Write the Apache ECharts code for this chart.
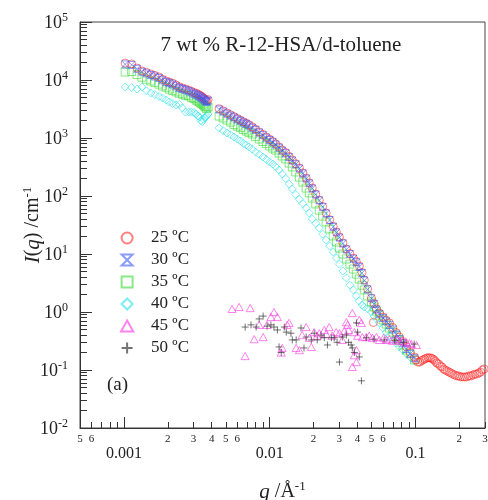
<!DOCTYPE html>
<html><head><meta charset="utf-8">
<script src="https://cdn.jsdelivr.net/npm/echarts@6/dist/echarts.min.js"></script>
<style>html,body{margin:0;padding:0;background:#fff}#c{width:488px;height:500px}</style>
</head><body><div id="c"></div>
<script>
// ---- data (q in 1/Å, I in 1/cm) ----
const qA = [0.00102,0.00113,0.00123,0.00133,0.00143,0.00153,0.00163,0.00174,0.00184,0.00195,0.00205,0.00216,0.00228,0.00240,0.00252,0.00265,0.00278,0.00290,0.00302,0.00313,0.00322,0.00330,0.00338,0.00345,0.00352,0.00358,0.00364,0.00370,0.00378];
const qB = [0.0045,0.0048,0.0051,0.0054,0.0057,0.0060,0.0063,0.0066,0.0069,0.0072,0.0076,0.0080,0.0085,0.0090,0.0095,0.0100,0.0105,0.0110,0.0116,0.0122,0.0129,0.0136,0.0143,0.0151,0.0160,0.0169,0.0178,0.0187,0.0196,0.0207,0.0219,0.0231,0.0244,0.0258,0.0273,0.0287,0.0301,0.0318,0.0336,0.0355,0.0375,0.0393,0.0412,0.0430,0.0446,0.0470,0.0499,0.0520,0.0540,0.0566,0.0600,0.0630,0.0663,0.0700,0.0740,0.0776,0.0820,0.0867,0.0920,0.0984];
const qC = [0.101,0.104,0.107,0.110,0.113,0.116,0.119,0.122,0.125,0.128,0.131,0.134,0.137,0.140,0.144,0.148,0.152,0.156,0.160,0.165,0.170,0.175,0.180,0.186,0.192,0.198,0.204,0.211,0.218,0.225,0.232,0.240,0.248,0.256,0.264,0.272,0.280,0.288,0.296];

const i25A = [19600,18900,16100,14300,13500,12700,12000,11300,10300,9600,9200,8800,8200,7600,7300,7000,6700,6400,6100,5900,5700,5500,5300,5100,4900,4700,4500,4400,4600];
const i25B = [3200,2950,2700,2500,2330,2170,2030,1900,1800,1690,1550,1420,1270,1150,1040,950,870,790,700,620,560,480,418,360,304,250,204,168,137,108,85,66,51,39,30,24,19.6,15.5,12.2,10.2,8.5,7.4,6.2,4.8,3.56,2.5,1.74,1.4,1.13,0.96,0.82,0.72,0.65,0.54,0.44,0.37,0.31,0.25,0.20,0.168];
const i25C = [0.149,0.137,0.137,0.145,0.150,0.155,0.160,0.163,0.163,0.160,0.156,0.150,0.141,0.132,0.127,0.117,0.113,0.104,0.100,0.096,0.092,0.089,0.085,0.082,0.079,0.079,0.076,0.076,0.076,0.076,0.079,0.079,0.082,0.085,0.085,0.089,0.092,0.100,0.104];
const q25Extra = [0.0515];
const i25Extra = [0.66];

const i30A = [18600,18200,15600,13900,13000,12200,11500,10800,9900,9200,8800,8400,7800,7300,7000,6700,6400,6100,5800,5600,5400,5200,5000,4800,4650,4450,4300,4200,4400];
const i30B = [3100,2850,2620,2420,2260,2100,1970,1840,1750,1640,1500,1380,1240,1120,1010,925,845,770,680,605,545,468,408,352,297,245,200,165,135,106,84,65,50,38.5,29.5,23.5,19.2,15.2,12.0,10.0,8.3,7.2,6.0,4.7,3.5,2.45,1.72,1.38,1.1,0.93,0.79,0.69,0.6,0.5,0.41,0.34,0.29,0.23,0.19,0.16];

const i35A = [13700,14000,12400,11200,10300,9600,9100,8500,7900,7500,6980,6600,6240,5900,5700,5450,5330,5010,4810,4520,4340,4170,4000,3860,3700,3560,3420,3220,3420];
const i35B = [2390,2210,2040,1880,1700,1600,1510,1400,1320,1250,1170,1060,960,870,805,730,670,620,550,490,435,370,317,260,212,174,137,113,92,73,57,45,35.6,27,20.5,16.1,12.7,10,8.2,6.7,5.5,4.5,3.7,2.9,2.4,1.89,1.49,1.22,1.04,0.89,0.73,0.62,0.53,0.45,0.39,0.33,0.27,0.22,0.19,0.149];

const i40A = [7570,7400,7000,7600,6500,5970,5600,5200,4890,4500,4180,3900,3710,3800,3300,2800,2800,2800,2750,2600,2400,2300,2000,1900,2100,2250,2300,2400,2600];
const i40B = [1490,1340,1220,1130,1040,960,890,805,760,700,640,574,520,470,425,385,355,320,280,240,200,160,132,106,88,74,62,51,40,34,28,22,17.4,13.7,10.8,8.5,6.7,5.1,3.86,2.9,2.4,1.89,1.55,1.32,1.22,1.13,1.0,0.85,0.76,0.65,0.53,0.45,0.39,0.33,0.29,0.25,0.22,0.19,0.168,0.143];

const q45 = [0.00552,0.00617,0.00679,0.00735,0.00783,0.00847,0.00902,0.0096,0.0102,0.0107,0.0113,0.012,0.0122,0.0132,0.0136,0.0152,0.016,0.0167,0.0178,0.0187,0.0193,0.0202,0.0212,0.0219,0.0237,0.0244,0.0256,0.0268,0.0286,0.0301,0.0315,0.0325,0.0336,0.0343,0.0348,0.0369,0.0369,0.0381,0.0381,0.0394,0.0394,0.0401,0.0412,0.0426,0.0432,0.046,0.0482,0.0506,0.054,0.0566,0.0605,0.0633,0.0663,0.0695,0.0747,0.0776,0.082,0.0867,0.091,0.094,0.1016];
const i45 = [1.13,1.22,0.174,1.17,0.34,0.60,0.37,0.60,0.82,1.0,0.82,0.20,0.24,0.60,0.65,0.24,0.22,0.40,0.55,0.36,0.25,0.45,0.39,0.43,0.49,0.42,0.55,0.39,0.45,0.43,0.33,0.47,0.67,0.60,0.49,0.96,0.113,0.45,0.18,0.22,0.137,0.39,0.73,0.65,0.37,0.37,0.39,0.36,0.37,0.33,0.36,0.33,0.34,0.32,0.34,0.32,0.32,0.30,0.29,0.28,0.27];

const q50 = [0.00679,0.00745,0.00808,0.00847,0.00902,0.0096,0.0102,0.0107,0.0113,0.0116,0.012,0.0126,0.013,0.014,0.0143,0.0152,0.0164,0.0172,0.0178,0.0193,0.0202,0.0212,0.0225,0.0237,0.0249,0.0265,0.0277,0.029,0.0301,0.0315,0.0336,0.0348,0.0362,0.0369,0.0381,0.0394,0.0401,0.0412,0.0426,0.046,0.052,0.061,0.072,0.083,0.098];
const i50 = [0.55,0.60,0.55,0.76,0.85,0.57,0.60,0.55,0.49,0.25,0.20,0.55,0.45,0.43,0.33,0.33,0.53,0.24,0.37,0.33,0.43,0.33,0.40,0.36,0.27,0.36,0.36,0.30,0.137,0.37,0.40,0.30,0.27,0.24,0.20,0.65,0.45,0.168,0.065,0.36,0.34,0.33,0.32,0.30,0.28];

const seriesNames = ['25 ºC','30 ºC','35 ºC','40 ºC','45 ºC','50 ºC'];

// ---- ticks ----
const xMajorTicks = [0.001,0.01,0.1];
const xMajorLabels = ['0.001','0.01','0.1'];
const xMinorTicks = [0.0005,0.0006,0.0007,0.0008,0.0009,0.002,0.003,0.004,0.005,0.006,0.007,0.008,0.009,0.02,0.03,0.04,0.05,0.06,0.07,0.08,0.09,0.2,0.3];
const xMinorLabelVals = [0.0005,0.0006,0.002,0.003,0.004,0.005,0.006,0.02,0.03,0.04,0.05,0.06,0.2,0.3];
const xMinorLabels = ['5','6','2','3','4','5','6','2','3','4','5','6','2','3'];
const yMajorTicks = [0.01,0.1,1,10,100,1000,10000,100000];
const yMajorExp = ['-2','-1','0','1','2','3','4','5'];
const yMinorMant = [2,3,4,5,6,7,8,9];

const yMinorTicks = [];
for (let k = 0; k < yMajorTicks.length - 1; k++) for (const m of yMinorMant) yMinorTicks.push(m * yMajorTicks[k]);

function pairs(qs, is) { return qs.map((q, i) => [q, is[i]]); }
function lookup(vals, labels, v) {
  for (let i = 0; i < vals.length; i++) if (Math.abs(v / vals[i] - 1) < 1e-6) return labels[i];
  return '';
}

const F = 'Liberation Serif';
const C = '#222';
const SYM = {
  hourglass: 'path://M0,0L10,0L0,10L10,10Z',
  plus: 'path://M5,0L5,10M0,5L10,5',
  square: 'path://M0,0L10,0L10,10L0,10Z',
  diamond: 'path://M5,0L10,5L5,10L0,5Z',
  triangle: 'path://M5,0L10,9L0,9Z'
};

function sc(name, data, symbol, size, color, z) {
  return {
    name, type: 'scatter', data, symbol, symbolSize: size, z: z, symbolKeepAspect: true,
    itemStyle: { color: 'rgba(0,0,0,0)', borderColor: color, borderWidth: 1 },
    emphasis: { disabled: true }, animation: false, silent: true
  };
}

const chart = echarts.init(document.getElementById('c'), null, { renderer: 'canvas' });
const logAxisBase = (extra) => Object.assign({
  type: 'log', logBase: 10, splitLine: { show: false }, minorTick: { show: false }, minorSplitLine: { show: false }
}, extra);

chart.setOption({
  animation: false,
  backgroundColor: '#fff',
  grid: { left: 80, right: 3, top: 22, bottom: 72, show: true, borderColor: '#444', borderWidth: 1, containLabel: false, outerBoundsMode: 'none' },
  xAxis: [
    logAxisBase({
      min: 0.0005, max: 0.3, position: 'bottom',
      axisLine: { show: true, onZero: false, lineStyle: { color: '#333' } },
      axisTick: { show: true, inside: true, length: 11, customValues: xMajorTicks, lineStyle: { color: '#333' } },
      axisLabel: { customValues: xMajorTicks, formatter: v => lookup(xMajorTicks, xMajorLabels, v), margin: 18, fontSize: 16, fontFamily: F, color: C },
      name: '{i|q} /Å{s|-1}', nameLocation: 'middle', nameGap: 52, nameMoveOverlap: false,
      nameTextStyle: { fontFamily: F, fontSize: 20, color: C,
        rich: { i: { fontStyle: 'italic', fontFamily: F, fontSize: 21, color: C, verticalAlign: 'bottom' },
                s: { fontFamily: F, fontSize: 13, color: C, verticalAlign: 'top', padding: [0, 0, 10, 0] } } }
    }),
    logAxisBase({
      min: 0.0005, max: 0.3, position: 'bottom',
      axisLine: { show: false, onZero: false },
      axisTick: { show: true, inside: true, length: 6, customValues: xMinorTicks, lineStyle: { color: '#333' } },
      axisLabel: { customValues: xMinorLabelVals, formatter: v => lookup(xMinorLabelVals, xMinorLabels, v), margin: 6, fontSize: 11, fontFamily: F, color: C }
    })
  ],
  yAxis: [
    logAxisBase({
      min: 0.01, max: 100000, position: 'left',
      axisLine: { show: true, onZero: false, lineStyle: { color: '#333' } },
      axisTick: { show: true, inside: true, length: 12, customValues: yMajorTicks, lineStyle: { color: '#333' } },
      axisLabel: { customValues: yMajorTicks, margin: 12, color: C,
        formatter: v => '{b|10}{s|' + lookup(yMajorTicks, yMajorExp, v) + '}',
        rich: { b: { fontFamily: F, fontSize: 18, color: C, verticalAlign: 'bottom', padding: [3, 0, 0, 0] },
                s: { fontFamily: F, fontSize: 12, color: C, verticalAlign: 'top', padding: [0, 0, 9, 0] } } },
      name: '{i|I}({i|q}) /cm{s|-1}', nameLocation: 'middle', nameGap: 36, nameMoveOverlap: false,
      nameTextStyle: { fontFamily: F, fontSize: 20, color: C,
        rich: { i: { fontStyle: 'italic', fontFamily: F, fontSize: 21, color: C, verticalAlign: 'bottom' },
                s: { fontFamily: F, fontSize: 13, color: C, verticalAlign: 'top', padding: [0, 0, 10, 0] } } }
    }),
    logAxisBase({
      min: 0.01, max: 100000, position: 'left',
      axisLine: { show: false, onZero: false },
      axisTick: { show: true, inside: true, length: 7, customValues: yMinorTicks, lineStyle: { color: '#333' } },
      axisLabel: { show: false }
    })
  ],
  legend: {
    orient: 'vertical', left: 115, top: 224, itemWidth: 38, itemHeight: 11, itemGap: 4,
    selectedMode: false, data: seriesNames, symbolKeepAspect: true,
    textStyle: { fontFamily: F, fontSize: 17, color: C, lineHeight: 18 }
  },
  graphic: [
    { type: 'text', x: 281, y: 45, style: { text: '7 wt % R-12-HSA/d-toluene', font: '21px "Liberation Serif"', fill: C, textAlign: 'center', textVerticalAlign: 'middle' } },
    { type: 'text', x: 107, y: 385, style: { text: '(a)', font: '19px "Liberation Serif"', fill: C, textAlign: 'left', textVerticalAlign: 'middle' } }
  ],
  series: [
    sc(seriesNames[3], pairs(qA, i40A).concat(pairs(qB, i40B)), SYM.diamond, 8, 'rgba(40,225,235,0.75)', 2),
    sc(seriesNames[2], pairs(qA, i35A).concat(pairs(qB, i35B)), SYM.square, 8, 'rgba(40,215,40,0.7)', 3),
    sc(seriesNames[0], pairs(qA, i25A).concat(pairs(qB, i25B), pairs(qC, i25C), pairs(q25Extra, i25Extra)), 'circle', 8, 'rgba(255,30,30,0.7)', 4),
    sc(seriesNames[1], pairs(qA, i30A).concat(pairs(qB, i30B)), SYM.hourglass, 7, 'rgba(60,90,255,0.75)', 5),
    sc(seriesNames[4], pairs(q45, i45), SYM.triangle, 8, 'rgba(255,60,230,0.8)', 6),
    sc(seriesNames[5], pairs(q50, i50), SYM.plus, 7, 'rgba(50,50,50,0.85)', 7)
  ]
});
</script>
</body></html>
